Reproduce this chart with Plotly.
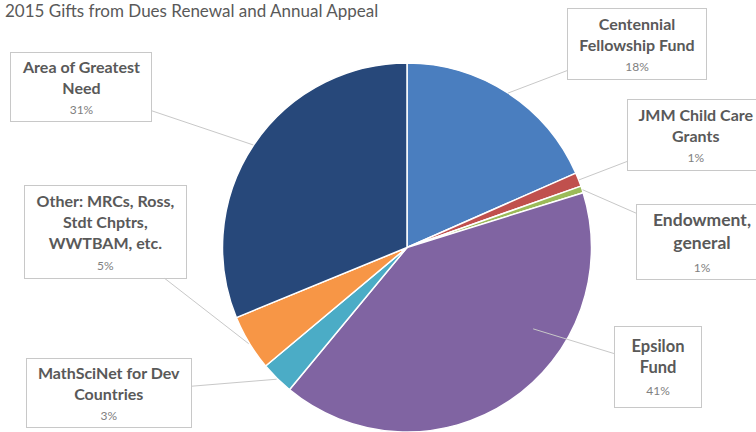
import math
import plotly.graph_objects as go

# ---- data ----
categories = [
    "Centennial Fellowship Fund",
    "JMM Child Care Grants",
    "Endowment, general",
    "Epsilon Fund",
    "MathSciNet for Dev Countries",
    "Other: MRCs, Ross, Stdt Chptrs, WWTBAM, etc.",
    "Area of Greatest Need",
]
values = [18.4, 1.2, 0.6, 40.8, 2.9, 4.9, 31.2]
label_lines = [
    ["Centennial", "Fellowship Fund"],
    ["JMM Child Care", "Grants"],
    ["Endowment,", "general"],
    ["Epsilon", "Fund"],
    ["MathSciNet for Dev", "Countries"],
    ["Other: MRCs, Ross,", "Stdt Chptrs,", "WWTBAM, etc."],
    ["Area of Greatest", "Need"],
]
colors = ["#4a7ebf", "#c0504d", "#9bbb59", "#8064a2", "#4bacc6", "#f79646", "#27487a"]
title_text = "2015 Gifts from Dues Renewal and Annual Appeal"

# ---- layout / style ----
W, H = 756, 432
CX, CY, R = 407, 248, 185  # pie centre and radius in pixels
# callout boxes: (centre x, centre y, width, height) in pixels,
# leader tip radius factor, leader tip position within slice (0..1), font size
boxes = [
    (637, 44, 140, 72, 1.0, 0.5, 16),
    (696, 135, 138, 72, 1.0, 0.5, 16),
    (702, 242, 132, 76, 1.0, 0.5, 17.5),
    (658, 367, 88, 82, 0.81, 0.34, 16.5),
    (109, 393, 166, 70, 1.0, 0.5, 16),
    (105, 232, 163, 94, 1.0, 0.5, 16),
    (81, 87, 142, 70, 1.0, 0.5, 16),
]

fig = go.Figure()
fig.add_trace(go.Pie(
    labels=categories,
    values=values,
    sort=False,
    direction="clockwise",
    rotation=0,
    textinfo="none",
    marker=dict(colors=colors, line=dict(color="white", width=1.5)),
    domain=dict(x=[(CX - R) / W, (CX + R) / W], y=[max(0, (H - CY - R) / H), (H - CY + R) / H]),
    showlegend=False,
    hovertemplate="%{label}: %{percent}<extra></extra>",
))

total = sum(values)
cum = 0.0
annotations = []
for i, v in enumerate(values):
    bx, by, bw, bh, rf, af, fs = boxes[i]
    ang = (cum + v * af) / total * 2 * math.pi
    cum += v
    tx = CX + rf * R * math.sin(ang)
    ty = CY - rf * R * math.cos(ang)
    pct = round(v / total * 100)
    text = "<br>".join("<b>%s</b>" % s for s in label_lines[i])
    text += "<br><span style='font-size:12px;color:#808080'>%d%%</span>" % pct
    annotations.append(dict(
        x=tx / W, y=1 - ty / H, xref="paper", yref="paper",
        axref="pixel", ayref="pixel",
        ax=bx - tx, ay=by - ty,
        showarrow=True, arrowhead=0, arrowwidth=1, arrowcolor="#c8c8c8",
        text=text, align="center", valign="middle",
        font=dict(family="Lato, Open Sans, sans-serif", size=fs, color="#595959"),
        bordercolor="#c8c8c8", borderwidth=1, borderpad=0, bgcolor="white",
        width=bw - 2, height=bh - 2,
    ))

annotations.append(dict(
    x=3 / W, y=1 - 11 / H, xref="paper", yref="paper",
    xanchor="left", yanchor="middle", showarrow=False,
    text=title_text,
    font=dict(family="Lato, Open Sans, sans-serif", size=17, color="#595959"),
))

fig.update_layout(
    width=W, height=H,
    margin=dict(l=0, r=0, t=0, b=0),
    paper_bgcolor="white", plot_bgcolor="white",
    annotations=annotations,
)

fig.write_html("out.html")
